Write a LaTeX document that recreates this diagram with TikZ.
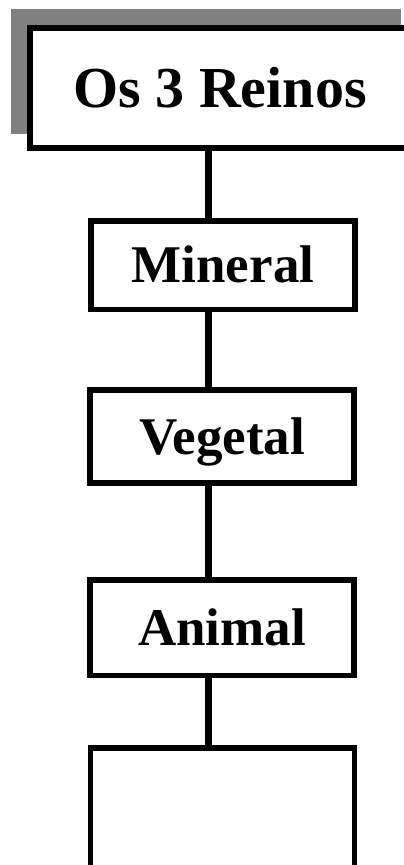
\documentclass[tikz,border=0pt]{standalone}
\usepackage{fontspec}
\setmainfont{Liberation Serif}

\tikzset{
	reino/.style={draw, line width=5.5pt, fill=white,
		minimum width=264pt, minimum height=93pt,
		text height=35pt, text depth=0pt,
		font=\fontsize{53}{60}\selectfont\bfseries},
	haste/.style={line width=6.5pt}
}

\begin{document}
\begin{tikzpicture}[x=1pt,y=-1pt]
		
		\useasboundingbox (0,0) rectangle (404,865);
		\clip (0,0) rectangle (404,865);
		
		%
		\coordinate (S1) at (11,9);
		\coordinate (S2) at (401,134);
		\coordinate (spine) at (208.5,0);
		
		% shadow behind the title
		\fill[black!50] (S1) rectangle (S2);
		
		\node[reino, minimum width=380pt, minimum height=120pt, text height=38.4pt,
			font=\fontsize{58}{60}\selectfont\bfseries] (titulo) at (220,88) {Os 3 Reinos};
		
		\node[reino, minimum height=88.5pt] (mineral) at (223,265) {Mineral};
		\node[reino] (vegetal) at (222,436.5) {Vegetal};
		\node[reino, minimum height=95.5pt] (animal) at (222,627.5) {Animal};
		\node[reino, minimum height=200pt] (vazio) at (222.5,848) {};
		
		% the spine
		\draw[haste] (titulo.south -| spine) -- (mineral.north -| spine);
		\draw[haste] (mineral.south -| spine) -- (vegetal.north -| spine);
		\draw[haste] (vegetal.south -| spine) -- (animal.north -| spine);
		\draw[haste] (animal.south -| spine) -- (vazio.north -| spine);
		
\end{tikzpicture}
\end{document}
